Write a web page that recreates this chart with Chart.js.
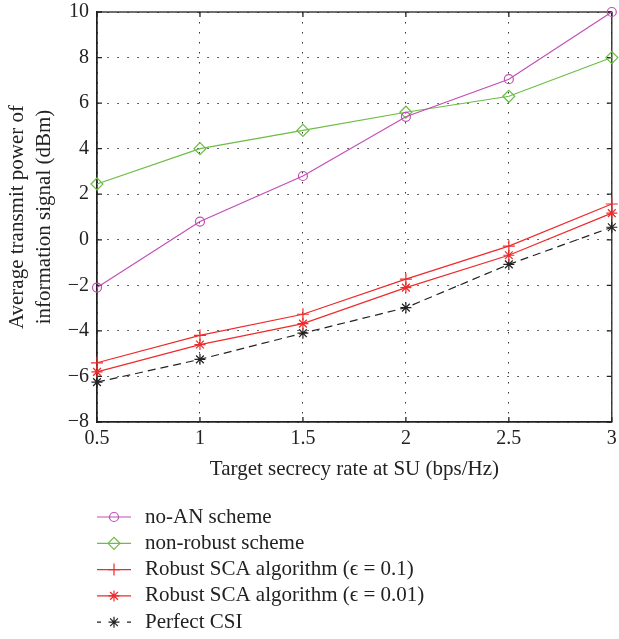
<!DOCTYPE html>
<html>
<head>
<meta charset="utf-8">
<script src="https://cdn.jsdelivr.net/npm/chart.js@4.4.1/dist/chart.umd.min.js"></script>
<style>
html, body { margin: 0; padding: 0; background: #fff; }
#wrap { width: 619px; height: 639px; }
</style>
</head>
<body>
<div id="wrap"><canvas id="powerChart" width="619" height="639"></canvas></div>
<script>
// data
const rates = [0.5, 1, 1.5, 2, 2.5, 3];
const noAN = [-2.1, 0.8, 2.8, 5.4, 7.05, 10];
const nonRobust = [2.45, 4.0, 4.8, 5.6, 6.3, 8.0];
const robust01 = [-5.4, -4.2, -3.27, -1.73, -0.28, 1.57];
const robust001 = [-5.8, -4.6, -3.68, -2.1, -0.68, 1.17];
const perfectCSI = [-6.25, -5.25, -4.1, -2.98, -1.08, 0.55];

const xTicks = [0.5, 1, 1.5, 2, 2.5, 3];
const yTicks = [-8, -6, -4, -2, 0, 2, 4, 6, 8, 10];

const seriesNames = [
	"no-AN scheme",
	"non-robust scheme",
	"Robust SCA algorithm (\u03f5 = 0.1)",
	"Robust SCA algorithm (\u03f5 = 0.01)",
	"Perfect CSI"
];

const serif = "'Liberation Serif', 'Times New Roman', serif";
const ink = "#222";

Chart.defaults.font.family = serif;
Chart.defaults.color = ink;

function pts(ys) {
	return rates.map((r, i) => ({ x: r, y: ys[i] }));
}

function series(label, ys, color, style, radius, dash) {
	return {
		label: label,
		data: pts(ys),
		borderColor: color,
		backgroundColor: "rgba(0,0,0,0)",
		borderWidth: 1.2,
		borderDash: dash || [],
		pointStyle: style,
		pointRadius: radius,
		pointBorderWidth: 1.2,
		pointBorderColor: color,
		pointBackgroundColor: "rgba(0,0,0,0)",
		tension: 0,
		clip: false
	};
}

// box round the plot with ticks pointing inward
const framePlugin = {
	id: "frame",
	beforeDatasetsDraw(chart) {
		const { ctx, chartArea: a, scales } = chart;
		ctx.save();
		ctx.strokeStyle = ink;
		ctx.lineWidth = 1.3;
		ctx.strokeRect(a.left, a.top, a.right - a.left, a.bottom - a.top);
		ctx.beginPath();
		scales.x.ticks.forEach(t => {
			const px = scales.x.getPixelForValue(t.value);
			ctx.moveTo(px, a.bottom); ctx.lineTo(px, a.bottom - 5);
			ctx.moveTo(px, a.top); ctx.lineTo(px, a.top + 5);
		});
		scales.y.ticks.forEach(t => {
			const py = scales.y.getPixelForValue(t.value);
			ctx.moveTo(a.left, py); ctx.lineTo(a.left + 5, py);
			ctx.moveTo(a.right, py); ctx.lineTo(a.right - 5, py);
		});
		ctx.stroke();
		ctx.restore();
	}
};

// legend stacked under the plot
const legendPlugin = {
	id: "stackLegend",
	afterDraw(chart) {
		const ctx = chart.ctx;
		chart.data.datasets.forEach((ds, i) => {
			const y = 517 + i * 26.3;
			ctx.save();
			ctx.strokeStyle = ds.borderColor;
			ctx.lineWidth = 1.2;
			ctx.setLineDash(ds.borderDash.length ? [4, 26] : []);
			ctx.beginPath();
			ctx.moveTo(97, y);
			ctx.lineTo(131, y);
			ctx.stroke();
			ctx.setLineDash([]);
			ctx.fillStyle = "rgba(0,0,0,0)";
			Chart.helpers.drawPoint(ctx, {
				pointStyle: ds.pointStyle,
				radius: ds.pointRadius,
				rotation: 0,
				borderWidth: 1.2
			}, 114, y);
			ctx.fillStyle = ink;
			ctx.font = "21px " + serif;
			ctx.textBaseline = "middle";
			ctx.textAlign = "left";
			ctx.fillText(ds.label, 145, y);
			ctx.restore();
		});
	}
};

const ctx = document.getElementById("powerChart").getContext("2d");

new Chart(ctx, {
	type: "line",
	data: {
		datasets: [
			series(seriesNames[0], noAN, "#c24fb4", "circle", 4.5),
			series(seriesNames[1], nonRobust, "#6cbd45", "rectRot", 6),
			series(seriesNames[2], robust01, "#ee2a2a", "cross", 6),
			series(seriesNames[3], robust001, "#ee2a2a", "star", 5.5),
			series(seriesNames[4], perfectCSI, "#222222", "star", 5.5, [8, 5])
		]
	},
	options: {
		responsive: false,
		animation: false,
		layout: { padding: { left: 0, top: 12, right: 5, bottom: 154 } },
		plugins: {
			legend: { display: false },
			tooltip: { enabled: false }
		},
		scales: {
			x: {
				type: "linear",
				min: 0.5,
				max: 3,
				afterBuildTicks: s => { s.ticks = xTicks.map(v => ({ value: v })); },
				afterFit: s => { s.height = 63; s.paddingLeft = 0; s.paddingRight = 0; },
				grid: { color: "#333", lineWidth: 1, drawTicks: false },
				border: { display: true, color: ink, width: 1.3, dash: [1.5, 8.5] },
				ticks: { font: { size: 20 }, padding: 5, color: ink, callback: v => String(v) },
				title: {
					display: true,
					text: "Target secrecy rate at SU (bps/Hz)",
					font: { size: 21 },
					padding: { top: 0, bottom: 3 },
					color: ink
				}
			},
			y: {
				type: "linear",
				min: -8,
				max: 10,
				afterBuildTicks: s => { s.ticks = yTicks.map(v => ({ value: v })); },
				afterFit: s => { s.width = 97; s.paddingTop = 0; s.paddingBottom = 0; },
				grid: { color: "#333", lineWidth: 1, drawTicks: false },
				border: { display: true, color: ink, width: 1.3, dash: [1.5, 8.5] },
				ticks: {
					font: { size: 20 },
					padding: 8,
					color: ink,
					callback: v => String(v).replace("-", "\u2212")
				},
				title: {
					display: true,
					text: ["Average transmit power of", "information signal (dBm)"],
					font: { size: 21, lineHeight: 1.29 },
					padding: { top: 4, bottom: 0 },
					color: ink
				}
			}
		}
	},
	plugins: [framePlugin, legendPlugin]
});
</script>
</body>
</html>
